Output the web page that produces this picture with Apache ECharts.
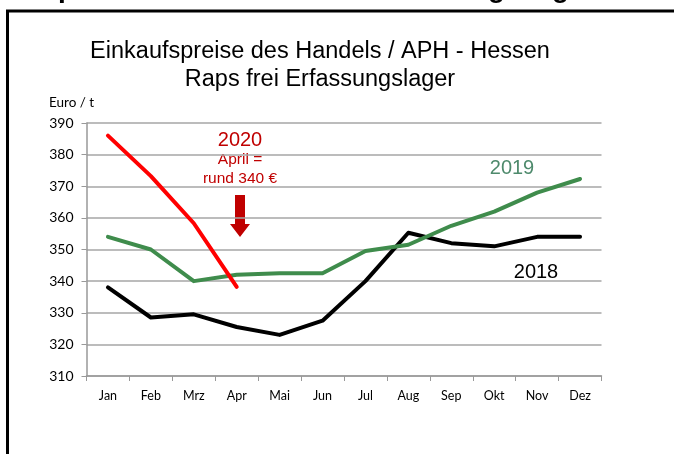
<!DOCTYPE html>
<html>
<head>
<meta charset="utf-8">
<style>
  html, body { margin: 0; padding: 0; background: #fff; overflow: hidden; }
  #chart { width: 674px; height: 454px; }
</style>
<script src="https://cdn.jsdelivr.net/npm/echarts@6/dist/echarts.min.js"></script>
</head>
<body>
<div id="chart"></div>
<script>
const months = ["Jan", "Feb", "Mrz", "Apr", "Mai", "Jun", "Jul", "Aug", "Sep", "Okt", "Nov", "Dez"];
const prices2018 = [338, 328.5, 329.5, 325.5, 323, 327.5, 340, 355.3, 352, 351, 354, 354];
const prices2019 = [354, 350, 340, 342, 342.5, 342.5, 349.5, 351.5, 357.5, 362, 368, 372.3];
const prices2020 = [386, 373.2, 358.3, 338.2];

const labelFont = "Lato, 'Open Sans', sans-serif";
const textFont = "'Liberation Sans', Arial, sans-serif";

const chart = echarts.init(document.getElementById("chart"));

const lineSeries = (name, data, color) => ({
  name: name,
  type: "line",
  data: data,
  symbol: "none",
  smooth: false,
  lineStyle: { color: color, width: 4, cap: "round", join: "round" },
  z: 5,
});

const option = {
  animation: false,
  grid: { left: 86.5, right: 72.5, top: 123, bottom: 78 },
  xAxis: {
    type: "category",
    data: months,
    boundaryGap: true,
    axisLine: { lineStyle: { color: "#999", width: 1.5 } },
    axisTick: { show: true, length: 5, lineStyle: { color: "#999" } },
    axisLabel: { color: "#000", fontSize: 12.5, fontFamily: labelFont, margin: 13 },
  },
  yAxis: {
    type: "value",
    min: 310,
    max: 390,
    interval: 10,
    axisLine: { show: true, lineStyle: { color: "#999", width: 1.5 } },
    axisTick: { show: true, length: 5, lineStyle: { color: "#999" } },
    axisLabel: { color: "#000", fontSize: 14, fontFamily: labelFont, margin: 13 },
    splitLine: { lineStyle: { color: "#a6a6a6", width: 1.5 } },
  },
  series: [
    lineSeries("2018", prices2018, "#000000"),
    lineSeries("2019", prices2019, "#3f8c4c"),
    lineSeries("2020", prices2020, "#ff0000"),
  ],
  graphic: [
    // frame of the slide
    { type: "polyline", shape: { points: [[7.5, 460], [7.5, 11], [680, 11]] }, style: { stroke: "#000", lineWidth: 3, fill: null } },
    { type: "rect", shape: { x: 662, y: 13, width: 14, height: 60 }, style: { fill: "#fff" }, z: 100 },
    // cut-off headline glyphs
    { type: "text", x: 58, y: -25, style: { text: "p", font: "bold 28px " + textFont, fill: "#000" } },
    { type: "text", x: 488, y: -25, style: { text: "g", font: "bold 28px " + textFont, fill: "#000" } },
    { type: "text", x: 552, y: -25, style: { text: "g", font: "bold 28px " + textFont, fill: "#000" } },
    // title
    {
      type: "text", x: 320, y: 52,
      style: { text: "Einkaufspreise des Handels / APH - Hessen", font: "23.5px " + textFont, fill: "#000", align: "center", verticalAlign: "middle" },
    },
    {
      type: "text", x: 320, y: 80,
      style: { text: "Raps frei Erfassungslager", font: "23.5px " + textFont, fill: "#000", align: "center", verticalAlign: "middle" },
    },
    {
      type: "text", x: 49, y: 103,
      style: { text: "Euro / t", font: "13.5px " + labelFont, fill: "#000", verticalAlign: "middle" },
    },
    // annotations
    {
      type: "text", x: 240, y: 140,
      style: { text: "2020", font: "20px " + textFont, fill: "#c00000", align: "center", verticalAlign: "middle" },
    },
    {
      type: "text", x: 240, y: 160,
      style: { text: "April =", font: "15.5px " + textFont, fill: "#c00000", align: "center", verticalAlign: "middle" },
    },
    {
      type: "text", x: 240, y: 179,
      style: { text: "rund 340 €", font: "15.5px " + textFont, fill: "#c00000", align: "center", verticalAlign: "middle" },
    },
    {
      type: "polygon",
      shape: { points: [[235, 195], [245, 195], [245, 224], [250, 224], [240, 237], [230, 224], [235, 224]] },
      style: { fill: "#c00000" },
    },
    {
      type: "text", x: 512, y: 168,
      style: { text: "2019", font: "20px " + textFont, fill: "#4e8a6c", align: "center", verticalAlign: "middle" },
    },
    {
      type: "text", x: 536, y: 272,
      style: { text: "2018", font: "20px " + textFont, fill: "#000", align: "center", verticalAlign: "middle" },
    },
  ],
};

option && chart.setOption(option);
</script>
</body>
</html>
